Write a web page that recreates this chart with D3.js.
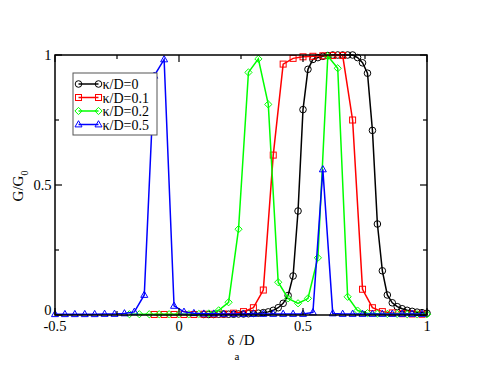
<!DOCTYPE html>
<html><head><meta charset="utf-8">
<script src="https://cdn.jsdelivr.net/npm/d3@7"></script>
<style>html,body{margin:0;padding:0;background:#fff}svg{display:block}</style>
</head><body>
<svg id="c" width="494" height="382"></svg>
<script>
// ---- data ----
const seriesNames = ["κ/D=0", "κ/D=0.1", "κ/D=0.2", "κ/D=0.5"];
const seriesColors = ["#000000", "#ff0000", "#00ff00", "#0000ff"];
const seriesSymbols = ["circle", "square", "diamond", "triangle"];

const xK0 = [0.10,0.12,0.14,0.16,0.18,0.20,0.22,0.24,0.26,0.28,0.30,0.32,0.34,0.36,0.38,0.40,0.42,0.44,0.46,0.48,0.50,0.52,0.54,0.56,0.58,0.60,0.62,0.64,0.66,0.68,0.70,0.72,0.74,0.76,0.78,0.80,0.82,0.84,0.86,0.88,0.90,0.92,0.94,0.96,0.98,1.00];
const yK0 = [0.002,0.002,0.002,0.003,0.003,0.003,0.003,0.004,0.004,0.005,0.006,0.007,0.009,0.012,0.018,0.028,0.045,0.075,0.15,0.40,0.79,0.945,0.983,0.99,0.995,0.998,1.0,1.0,1.0,1.0,1.0,0.99,0.97,0.93,0.71,0.35,0.17,0.077,0.047,0.032,0.024,0.018,0.014,0.011,0.009,0.007];

const xK01 = [-0.10,-0.06,-0.02,0.02,0.06,0.10,0.14,0.18,0.22,0.26,0.30,0.34,0.38,0.42,0.46,0.50,0.54,0.58,0.62,0.66,0.70,0.74,0.78,0.82,0.86,0.90,0.94,0.98];
const yK01 = [0.002,0.002,0.002,0.002,0.002,0.003,0.003,0.004,0.007,0.013,0.028,0.096,0.615,0.965,0.987,0.993,0.995,0.997,0.998,0.998,0.75,0.099,0.028,0.013,0.008,0.005,0.004,0.003];

const xK02 = [-0.20,-0.16,-0.12,-0.08,-0.04,0.00,0.04,0.08,0.12,0.16,0.20,0.24,0.28,0.32,0.36,0.40,0.44,0.48,0.52,0.56,0.60,0.64,0.68,0.72,0.76,0.80,0.84,0.88,0.92,0.96,1.00];
const yK02 = [0.003,0.003,0.003,0.003,0.003,0.003,0.003,0.004,0.006,0.018,0.049,0.33,0.933,0.985,0.81,0.126,0.064,0.045,0.064,0.22,0.996,0.949,0.07,0.017,0.007,0.005,0.004,0.004,0.003,0.003,0.003];

const xK05 = [-0.50,-0.46,-0.42,-0.38,-0.34,-0.30,-0.26,-0.22,-0.18,-0.14,-0.10,-0.06,-0.02,0.02,0.06,0.10,0.14,0.18,0.22,0.26,0.30,0.34,0.38,0.42,0.46,0.50,0.54,0.58,0.62,0.66,0.70,0.74,0.78,0.82,0.86,0.90,0.94,0.98];
const yK05 = [0.003,0.003,0.003,0.003,0.003,0.004,0.004,0.006,0.012,0.077,0.92,0.983,0.035,0.012,0.007,0.005,0.005,0.004,0.004,0.004,0.004,0.004,0.004,0.004,0.004,0.004,0.01,0.56,0.006,0.004,0.004,0.004,0.004,0.004,0.004,0.004,0.004,0.004];

const xTicks = [-0.5, 0, 0.5, 1];
const xTickLabels = ["-0.5", "0", "0.5", "1"];
const xMinorTicks = [-0.25, 0.25, 0.75];
const yTicks = [0, 0.5, 1];
const yTickLabels = ["0", "0.5", "1"];
const yMinorTicks = [0.25, 0.75];

// ---- chart ----
const svg = d3.select("#c");
const L = 55, R = 427, T = 55, B = 315;
const x = d3.scaleLinear().domain([-0.5, 1]).range([L, R]);
const y = d3.scaleLinear().domain([0, 1]).range([B, T]);
const font = "'Liberation Serif','Times New Roman',serif";

svg.append("rect").attr("width", 494).attr("height", 382).attr("fill", "#fff");

const seriesX = [xK0, xK01, xK02, xK05];
const seriesY = [yK0, yK01, yK02, yK05];

function drawSymbol(g, type, cx, cy, color) {
  if (type === "circle") {
    g.append("circle").attr("cx", cx).attr("cy", cy).attr("r", 3.3)
      .attr("fill", "none").attr("stroke", color).attr("stroke-width", 1);
  } else if (type === "square") {
    g.append("rect").attr("x", cx - 3).attr("y", cy - 3).attr("width", 6).attr("height", 6)
      .attr("fill", "none").attr("stroke", color).attr("stroke-width", 1);
  } else if (type === "diamond") {
    g.append("path").attr("d", `M${cx},${cy-3.6}L${cx+3.6},${cy}L${cx},${cy+3.6}L${cx-3.6},${cy}Z`)
      .attr("fill", "none").attr("stroke", color).attr("stroke-width", 1);
  } else {
    g.append("path").attr("d", `M${cx},${cy-3.8}L${cx+3.5},${cy+2.4}L${cx-3.5},${cy+2.4}Z`)
      .attr("fill", "none").attr("stroke", color).attr("stroke-width", 1);
  }
}

const line = d3.line().x(d => x(d[0])).y(d => y(d[1]));
seriesX.forEach((xs, i) => {
  const pts = xs.map((v, j) => [v, seriesY[i][j]]);
  const g = svg.append("g");
  g.append("path").attr("d", line(pts)).attr("fill", "none")
    .attr("stroke", seriesColors[i]).attr("stroke-width", 1.5);
  pts.forEach(p => drawSymbol(g, seriesSymbols[i], x(p[0]), y(p[1]), seriesColors[i]));
});

// frame
svg.append("rect").attr("x", L).attr("y", T).attr("width", R - L).attr("height", B - T)
  .attr("fill", "none").attr("stroke", "#000").attr("stroke-width", 1.5);

// ticks (inward, mirrored)
const tk = svg.append("g").attr("stroke", "#000").attr("stroke-width", 1.2);
xTicks.forEach(v => {
  tk.append("line").attr("x1", x(v)).attr("x2", x(v)).attr("y1", B).attr("y2", B - 7);
  tk.append("line").attr("x1", x(v)).attr("x2", x(v)).attr("y1", T).attr("y2", T + 7);
});
xMinorTicks.forEach(v => {
  tk.append("line").attr("x1", x(v)).attr("x2", x(v)).attr("y1", B).attr("y2", B - 4);
  tk.append("line").attr("x1", x(v)).attr("x2", x(v)).attr("y1", T).attr("y2", T + 4);
});
yTicks.forEach(v => {
  tk.append("line").attr("x1", L).attr("x2", L + 7).attr("y1", y(v)).attr("y2", y(v));
  tk.append("line").attr("x1", R).attr("x2", R - 7).attr("y1", y(v)).attr("y2", y(v));
});
yMinorTicks.forEach(v => {
  tk.append("line").attr("x1", L).attr("x2", L + 4).attr("y1", y(v)).attr("y2", y(v));
  tk.append("line").attr("x1", R).attr("x2", R - 4).attr("y1", y(v)).attr("y2", y(v));
});

// tick labels
xTicks.forEach((v, i) => {
  svg.append("text").attr("x", x(v)).attr("y", 331).attr("text-anchor", "middle")
    .attr("font-family", font).attr("font-size", 14.5).text(xTickLabels[i]);
});
yTicks.forEach((v, i) => {
  svg.append("text").attr("x", 51.5).attr("y", y(v) + (v === 0 ? -0.5 : 5)).attr("text-anchor", "end")
    .attr("font-family", font).attr("font-size", 14.5).text(yTickLabels[i]);
});

// axis titles
const xt = svg.append("text").attr("x", 241).attr("y", 345).attr("text-anchor", "middle")
  .attr("font-family", font).attr("font-size", 15);
xt.append("tspan").text("δ");
xt.append("tspan").attr("dy", 15).attr("font-size", 11).text("a");
xt.append("tspan").attr("dy", -15).text("/D");

const yt = svg.append("text").attr("transform", "translate(23,186) rotate(-90)")
  .attr("text-anchor", "middle").attr("font-family", font).attr("font-size", 15);
yt.append("tspan").text("G/G");
yt.append("tspan").attr("dy", 5).attr("font-size", 10).text("0");

// legend
const lg = svg.append("g");
lg.append("rect").attr("x", 73).attr("y", 73).attr("width", 84).attr("height", 62)
  .attr("fill", "#fff").attr("stroke", "#555").attr("stroke-width", 1);
const rowY = [84, 97.5, 111, 124.5];
seriesNames.forEach((name, i) => {
  const cy = rowY[i];
  lg.append("line").attr("x1", 78.5).attr("x2", 98.5).attr("y1", cy).attr("y2", cy)
    .attr("stroke", seriesColors[i]).attr("stroke-width", 1.5);
  drawSymbol(lg, seriesSymbols[i], 78.5, cy, seriesColors[i]);
  drawSymbol(lg, seriesSymbols[i], 98.5, cy, seriesColors[i]);
  lg.append("text").attr("x", 102.5).attr("y", cy + 5).attr("font-family", font)
    .attr("font-size", 14).text(name);
});
</script>
</body></html>
